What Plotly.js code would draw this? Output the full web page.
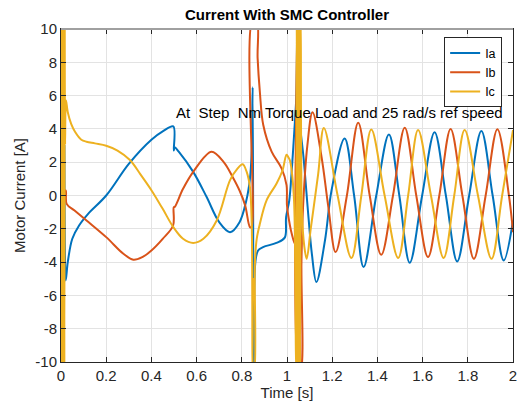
<!DOCTYPE html>
<html>
<head>
<meta charset="utf-8">
<script src="https://cdn.plot.ly/plotly-3.0.1.min.js"></script>
<style>html,body{margin:0;padding:0;background:#fff;}#chart{width:526px;height:401px;}</style>
</head>
<body>
<div id="chart"></div>
<script>
// ---- data ----
const seriesNames = ['Ia', 'Ib', 'Ic'];

const tA = [0.000,0.003,0.006,0.009,0.012,0.015,0.017,0.021,0.030,0.050,0.080,0.120,0.200,0.300,0.400,0.450,0.497,0.499,0.503,0.520,0.585,0.644,0.700,0.748,0.790,0.820,0.836,0.844,0.848,0.853,0.860,0.872,0.894,0.953,0.990,0.996,1.010,1.020,1.032,1.042,1.045,1.050,1.058,1.073,1.095,1.110,1.130,1.168,1.197,1.255,1.297,1.339,1.395,1.451,1.497,1.543,1.598,1.653,1.703,1.753,1.806,1.860,1.910,1.959,2.000];
const iA = [0,10.5,-10.5,10.5,-10.5,3,-2.9,-5.1,-4.0,-2.6,-1.8,-1.1,0.0,1.9,3.35,3.85,4.15,2.7,2.9,2.65,1.42,-0.08,-1.6,-2.2,-1.6,-0.3,1.0,2.7,6.5,-10.5,-4.0,-3.3,-3.1,-2.85,-2.53,-1.3,-0.3,1.3,3.8,6.2,10.5,6.5,4.2,2.3,-1.3,-3.5,-5.2,-2.7,0.3,3.43,0,-4.3,0,3.67,0,-4.04,0,3.8,0,-3.96,0,3.87,0,-3.9,-1.5];

const tB = [0.000,0.004,0.008,0.012,0.016,0.021,0.025,0.060,0.113,0.200,0.276,0.320,0.360,0.400,0.450,0.496,0.499,0.503,0.540,0.585,0.666,0.720,0.760,0.790,0.815,0.836,0.843,0.847,0.866,0.870,0.880,0.895,0.932,0.976,0.998,1.000,1.013,1.021,1.035,1.045,1.052,1.060,1.064,1.071,1.090,1.113,1.153,1.183,1.215,1.265,1.315,1.366,1.417,1.469,1.521,1.572,1.624,1.674,1.724,1.776,1.827,1.879,1.931,1.982,2.000];
const iB = [0,-10.5,10.5,-10.5,0.3,0.3,-0.5,-0.9,-1.5,-2.5,-3.5,-3.86,-3.7,-3.3,-2.6,-1.8,-0.7,-0.69,0.4,1.42,2.63,2.0,1.1,0.3,-0.6,-1.9,-1.9,10.5,10.5,8.25,6.2,4.23,2.63,1.63,0.62,-0.6,-1.8,-2.3,-2.9,10.5,-10.5,-10.5,-4.0,-0.7,3.0,5.0,2.3,-0.7,-3.4,0,4.37,0,-3.56,0,4.07,0,-3.7,0,4.0,0,-3.8,0,3.98,0,-2.2];

const tC = [0.000,0.0015,0.003,0.0045,0.006,0.0075,0.009,0.0105,0.012,0.0135,0.015,0.0165,0.018,0.022,0.030,0.045,0.062,0.090,0.113,0.150,0.200,0.250,0.305,0.350,0.400,0.450,0.497,0.540,0.585,0.630,0.689,0.748,0.780,0.804,0.822,0.836,0.844,0.847,0.850,0.852,0.855,0.858,0.866,0.880,0.910,0.954,0.980,0.998,1.006,1.013,1.030,1.040,1.043,1.046,1.049,1.052,1.055,1.058,1.061,1.066,1.076,1.087,1.105,1.138,1.163,1.224,1.285,1.329,1.373,1.432,1.492,1.536,1.580,1.637,1.693,1.740,1.786,1.845,1.905,1.952,2.000];
const iC = [0,10.5,-10.5,10.5,-10.5,10.5,-10.5,10.5,-10.5,10.5,-10.5,10.5,3.1,5.7,5.0,4.3,3.83,3.35,3.23,3.13,2.99,2.7,2.13,1.3,0.32,-0.8,-1.9,-2.6,-2.85,-2.6,-1.5,0.92,1.6,1.88,1.4,0.5,-1.8,-10.5,-5,-10.5,-10.5,-4.1,-2.6,-1.7,-0.28,0.72,1.5,2.45,2.3,2.1,0,-10.5,10.5,-10.5,10.5,-10.5,10.5,-10.5,10.5,-1,-3.0,-3.8,-2.0,1.3,4.05,0,-3.75,0,3.97,0,-3.75,0,3.93,0,-3.75,0,3.93,0,-3.8,0,3.93];

const xTickVals = [0,0.2,0.4,0.6,0.8,1,1.2,1.4,1.6,1.8,2];
const xTickText = ['0','0.2','0.4','0.6','0.8','1','1.2','1.4','1.6','1.8','2'];
const yTickVals = [-10,-8,-6,-4,-2,0,2,4,6,8,10];
const yTickText = ['-10','-8','-6','-4','-2','0','2','4','6','8','10'];

const noteText = 'At&nbsp; Step&nbsp; Nm Torque Load and 25 rad/s ref speed';
const noteX = 0.5, noteY = 5.0;

// ---- drawing ----
const FONT = 'Liberation Sans, Arial, Helvetica, sans-serif';
const colors = ['#0072BD', '#D95319', '#EDB120'];
const xs = [tA, tB, tC], ys = [iA, iB, iC];
const traces = seriesNames.map((n, k) => ({
  x: xs[k], y: ys[k], name: n, type: 'scatter', mode: 'lines',
  line: {color: colors[k], width: 2, shape: 'spline', smoothing: 1}
}));

const axisCommon = {
  showline: true, linecolor: '#262626', linewidth: 1,
  mirror: 'allticks', ticks: 'inside', ticklen: 5, tickcolor: '#262626',
  showgrid: true, gridcolor: '#e3e3e3', gridwidth: 1, zeroline: false,
  tickfont: {family: FONT, size: 15, color: '#262626'}
};

const layout = {
  width: 526, height: 401,
  margin: {l: 61, r: 13, t: 29, b: 39},
  paper_bgcolor: '#ffffff', plot_bgcolor: '#ffffff',
  font: {family: FONT, color: '#262626'},
  title: {text: '<b>Current With SMC Controller</b>', x: 0.5, xref: 'paper', y: 0.962, yanchor: 'middle',
          font: {family: FONT, size: 15, color: '#000000'}},
  xaxis: Object.assign({}, axisCommon, {range: [0, 2], tickvals: xTickVals, ticktext: xTickText,
          title: {text: 'Time [s]', standoff: 2, font: {family: FONT, size: 15, color: '#262626'}}}),
  yaxis: Object.assign({}, axisCommon, {range: [-10, 10], tickvals: yTickVals, ticktext: yTickText,
          title: {text: 'Motor Current [A]', standoff: 6, font: {family: FONT, size: 15, color: '#262626'}}}),
  showlegend: true,
  legend: {x: 0.976, xanchor: 'right', y: 0.975, yanchor: 'top', bgcolor: '#ffffff',
           bordercolor: '#262626', borderwidth: 1, font: {family: FONT, size: 12.5, color: '#000000'},
           tracegroupgap: 0, itemwidth: 30, entrywidth: 20},
  annotations: [{x: noteX, y: noteY, xref: 'x', yref: 'y', text: noteText, showarrow: false,
                 xanchor: 'left', yanchor: 'middle', font: {family: FONT, size: 15, color: '#000000'}}],
  shapes: [{type: 'line', xref: 'paper', yref: 'paper', x0: 0, x1: 1, y0: 1, y1: 1,
            line: {color: '#a0a0a0', width: 2}, layer: 'above'}]
};

Plotly.newPlot('chart', traces, layout, {displayModeBar: false, staticPlot: true});
</script>
</body>
</html>
